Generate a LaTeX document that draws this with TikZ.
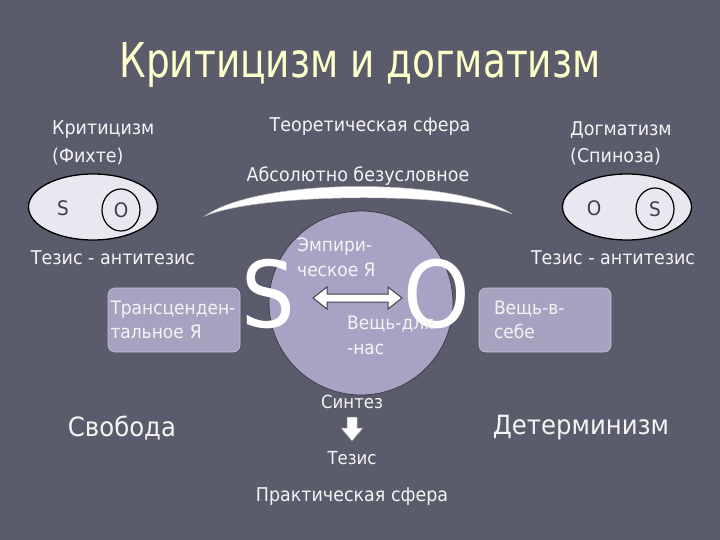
\documentclass[tikz,border=0pt]{standalone}
\usepackage{fontspec}
\setmainfont{DejaVu Sans}[FakeStretch=0.92]
\newfontfamily\titlefont{DejaVu Sans}[FakeStretch=0.78]
\usetikzlibrary{shapes.geometric}
\definecolor{bg}{HTML}{5A5B6B}
\definecolor{titlecol}{HTML}{FFFFCC}
\definecolor{lav}{HTML}{A8A1C0}
\definecolor{lavedge}{HTML}{C9C3DA}
\definecolor{circ}{HTML}{AAA2C5}
\definecolor{ellfill}{HTML}{E9E7EF}
\definecolor{txt}{HTML}{F4F4F4}
\definecolor{dark}{HTML}{3E3E48}
\tikzset{
  lbl/.style={text=txt, inner sep=0pt, font=\fontsize{19}{22}\selectfont},
  sml/.style={text=txt, inner sep=0pt, font=\fontsize{18}{20}\selectfont},
  biglbl/.style={text=txt, inner sep=0pt, font=\fontsize{26.5}{30}\selectfont},
  smallbox/.style={rounded corners=7pt, fill=lav, draw=lavedge, line width=0.6pt,
    minimum width=132pt, minimum height=64pt, inner ysep=4pt, text=txt, align=left,
    font=\fontsize{18.5}{24}\selectfont},
  ell/.style={ellipse, fill=ellfill, draw=black, line width=1.3pt, minimum width=129pt, minimum height=66pt},
  inner/.style={ellipse, draw=black, line width=1.2pt, minimum width=38pt, minimum height=42pt, inner sep=0pt},
  elltxt/.style={text=dark, inner sep=0pt, font=\fontsize{20}{22}\selectfont},
  giant/.style={text=white, inner sep=0pt, font=\fontsize{92}{92}\selectfont},
}
\begin{document}
\begin{tikzpicture}[x=1pt,y=-1pt]
\useasboundingbox (0,0) rectangle (720,540);
\fill[bg] (0,0) rectangle (720,540);

% title
\node[text=titlecol, inner sep=0pt, font=\titlefont\fontsize{48}{52}\selectfont] (title) at (360,65) {Критицизм и догматизм};

% left column
\node[lbl, anchor=west] (krit) at (52,130) {Критицизм};
\node[lbl, anchor=west] (fichte) at (52,157) {(Фихте)};
\node[ell] (lell) at (93,207) {};
\node[elltxt] (lS) at (63,208) {S};
\node[inner] (lOc) at (121,210) {};
\node[elltxt] (lO) at (lOc) {O};
\node[lbl] (lteza) at (113,258) {Тезис - антитезис};
\node[smallbox, text width=127pt, inner xsep=2.5pt] (trans) at (174,320) {Трансценден-\\тальное Я};
\node[biglbl] (svob) at (122,428) {Свобода};

% right column
\node[lbl, anchor=west] (dogm) at (570,130) {Догматизм};
\node[lbl, anchor=west] (spin) at (570,157) {(Спиноза)};
\node[ell] (rell) at (627,207) {};
\node[elltxt] (rO) at (594,208) {O};
\node[inner] (rSc) at (655,209) {};
\node[elltxt] (rS) at (rSc) {S};
\node[lbl] (rteza) at (613,258) {Тезис - антитезис};
\node[smallbox, text width=102pt, inner xsep=15pt] (veshch) at (545,320) {Вещь-в-\\себе};
\node[biglbl] (determ) at (581,428) {Детерминизм};

% centre
\node[lbl] (teor) at (370,127) {Теоретическая сфера};
\node[lbl] (abs) at (358,176) {Абсолютно безусловное};
\fill[white, draw=black!25, line width=0.5pt] (205,216) .. controls (262,176) and (458,178) .. (512,214)
   .. controls (458,192) and (262,192) .. (205,216) -- cycle;

\node[circle, fill=circ, draw=dark, line width=0.8pt, minimum size=184pt, inner sep=0pt] (core) at (361,303) {};
\node[giant] (bigS) at (268,294) {S};
\node[giant] (bigO) at (437,294) {O};
\node[lbl, anchor=west, align=left, font=\fontsize{18.5}{25}\selectfont] (emp) at (297,257) {Эмпири-\\ческое Я};
\node[lbl, anchor=west, align=left, font=\fontsize{18.5}{25}\selectfont] (vdn) at (347,335) {Вещь-для\\-нас};
\filldraw[fill=white, draw=dark, line width=1pt]
  (313,298) -- (327,287) -- (327,294) -- (388,294) -- (388,287) -- (402,298)
  -- (388,309) -- (388,302) -- (327,302) -- (327,309) -- cycle;

\node[sml] (sint) at (352,402) {Синтез};
\filldraw[fill=white, draw=black!40, line width=0.5pt]
  (347,417) -- (357,417) -- (357,428) -- (363,428) -- (352,441) -- (341,428) -- (347,428) -- cycle;
\node[sml] (tez) at (352,458) {Тезис};
\node[lbl] (prakt) at (352,497) {Практическая сфера};
\end{tikzpicture}
\end{document}
